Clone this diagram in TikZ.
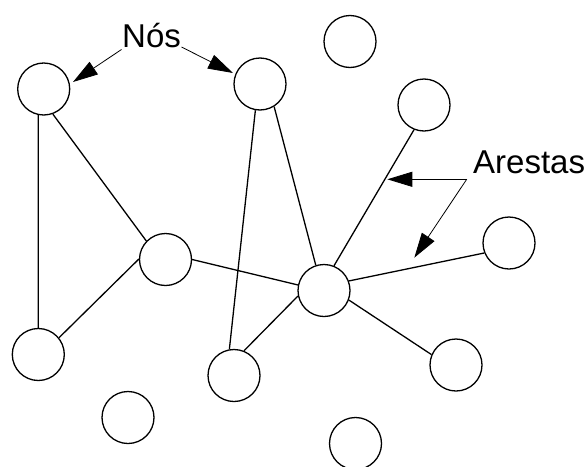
\documentclass[tikz,border=0pt]{standalone}
\usepackage{fontspec}
\setmainfont{Liberation Sans}
\usetikzlibrary{arrows.meta}
\begin{document}
\begin{tikzpicture}[x=1pt,y=-1pt,
  vert/.style={circle,draw,line width=1.3pt,inner sep=0pt,minimum size=52pt,fill=white},
  edge/.style={line width=1.3pt},
  callout/.style={line width=0.8pt,-{Triangle[length=25pt,width=15pt]}},
  lbl/.style={font=\fontsize{33}{40}\selectfont,inner sep=0pt,anchor=base west}]
\useasboundingbox (0,0) rectangle (588,466);
% nodes
\node[vert] (n1) at (43.7,89) {};
\node[vert] (n2) at (260,84) {};
\node[vert] (n3) at (350,41.5) {};
\node[vert] (n4) at (424,105) {};
\node[vert] (n5) at (509,243) {};
\node[vert] (n6) at (324,290.5) {};
\node[vert] (n7) at (165.5,259.5) {};
\node[vert] (n8) at (38.3,354.5) {};
\node[vert] (n9) at (234,375.5) {};
\node[vert] (n10) at (456,365) {};
\node[vert] (n11) at (128,417.5) {};
\node[vert] (n12) at (355.5,443.5) {};
% edges
\draw[edge] (n8.north) -- (n1.-102);
\draw[edge] (n1.-70) -- (n7.136);
\draw[edge] (n7.179) -- (n8.39);
\draw[edge] (n7.0) -- (n6.168);
\draw[edge] (n2.-100) -- (n9.100);
\draw[edge] (n2.-58) -- (n6.108);
\draw[edge] (n6.192) -- (n9.68);
\draw[edge] (n6.68) -- (n4.-112);
\draw[edge] (n6.21.5) -- (n5.202);
\draw[edge] (n6.-21.5) -- (n10.157.5);
% labels
\node[lbl] (nos) at (122,47) {Nós};
\node[lbl] (arestas) at (473,173) {Arestas};
\coordinate (nosA) at (121.5,49.5);
\coordinate (nosB) at (181.5,47);
\coordinate (tipA) at (73,82);
\coordinate (tipB) at (233,73);
\coordinate (arS) at (466.7,179.3);
\coordinate (tipC) at (387.3,179.3);
\coordinate (tipD) at (414.3,257.7);
\draw[callout] (nosA) -- (tipA);
\draw[callout] (nosB) -- (tipB);
\draw[callout] (arS) -- (tipC);
\draw[callout] (arS) -- (tipD);
\end{tikzpicture}
\end{document}
